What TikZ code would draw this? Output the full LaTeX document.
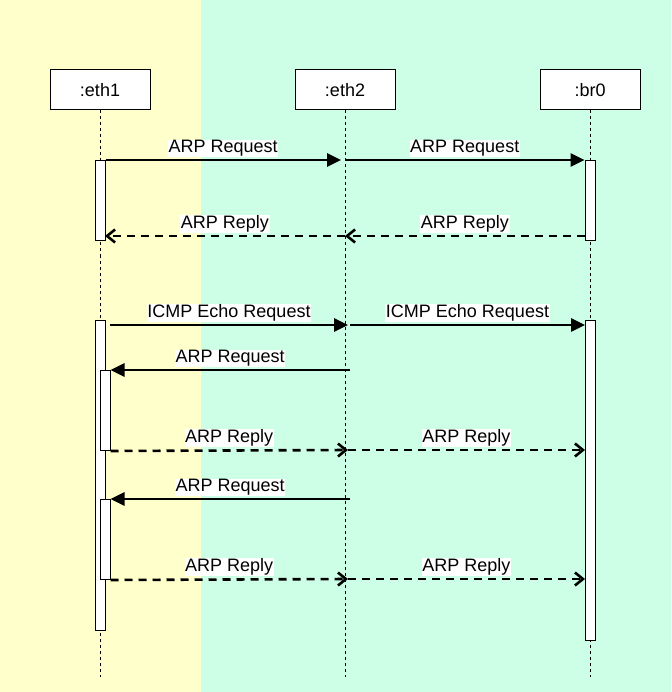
\documentclass[tikz,border=0pt]{standalone}
\usepackage{fontspec}
\setmainfont{Liberation Sans}
\usepackage{tikz}
\usetikzlibrary{arrows.meta}
\definecolor{bgyellow}{HTML}{FFFFCC}
\definecolor{bggreen}{HTML}{CCFFE6}
\tikzset{>=latex}

\begin{document}
\begin{tikzpicture}[x=1pt, y=-1pt]
\tikzset{head/.style={draw, fill=white, line width=1pt, minimum width=100pt, minimum height=40pt, inner sep=0pt, font=\fontsize{18pt}{20pt}\selectfont}}
\tikzset{lifeline/.style={line width=0.8pt, dash pattern=on 3pt off 3pt}}
\tikzset{act/.style={draw, fill=white, line width=1pt, minimum width=10pt, inner sep=0pt, anchor=north}}
\tikzset{msg/.style={line width=2.6pt, -{Triangle[length=14pt, width=13pt]}}}
\tikzset{reply/.style={line width=2.6pt, dash pattern=on 8pt off 6pt, -{Straight Barb[length=8pt, width=13pt, line width=2.6pt]}}}
\tikzset{lbl/.style={midway, above=2pt, fill=white, inner sep=0.5pt, font=\fontsize{18pt}{20pt}\selectfont}}
    \useasboundingbox (0,0) rectangle (671,692);
    \fill[bgyellow] (0,0) rectangle (201,692);
    \fill[bggreen] (201,0) rectangle (671,692);

    \node[head] (eth1) at (100,90) {:eth1};
    \node[head] (eth2) at (345,90) {:eth2};
    \node[head] (br0) at (590,90) {:br0};

    \coordinate (eth1end) at (100,677);
    \coordinate (eth2end) at (345,677);
    \coordinate (br0end) at (590,677);

    \draw[lifeline] (eth1) -- (eth1end);
    \draw[lifeline] (eth2) -- (eth2end);
    \draw[lifeline] (br0) -- (br0end);

    \node[act, minimum height=80pt] (a1) at (100,160) {};
    \node[act, minimum height=80pt] (b1) at (590,160) {};
    \node[act, minimum height=310pt] (a2) at (100,320) {};
    \node[act, minimum height=320pt] (b2) at (590,320) {};
    \node[act, minimum height=80pt] (c1) at (105,370) {};
    \node[act, minimum height=80pt] (c2) at (105,499) {};
% % % % % % % % % % % % % % % % % % %
    \coordinate (R1a) at (341,160);
    \coordinate (R1b) at (345,160);
    \coordinate (P1b) at (585,236);
    \coordinate (P1m) at (345,236);
    \coordinate (P1a) at (105,236);

    \draw[msg] (a1.north east) -- (R1a) node[lbl] {ARP Request};
    \draw[msg] (R1b) -- (b1.north west) node[lbl] {ARP Request};
    \draw[reply] (P1b) -- (P1m) node[lbl] {ARP Reply};
    \draw[reply] (P1m) -- (P1a) node[lbl] {ARP Reply};
% % % % % % % % % % % % % % % % % % %
    \coordinate (I1a) at (110,325);
    \coordinate (I1m) at (348,325);
    \coordinate (I1n) at (350,325);
    \coordinate (I1b) at (585,325);
    \coordinate (R2m) at (350,370);
    \coordinate (P2m) at (348,450);
    \coordinate (P2b) at (585,450);
    \coordinate (R3m) at (350,499);
    \coordinate (P3m) at (348,579);
    \coordinate (P3b) at (585,579);

    \draw[msg] (I1a) -- (I1m) node[lbl] {ICMP Echo Request};
    \draw[msg] (I1n) -- (I1b) node[lbl] {ICMP Echo Request};

    \draw[msg] (R2m) -- (c1.north east) node[lbl] {ARP Request};
    \draw[reply] (c1.south east) -- (P2m) node[lbl] {ARP Reply};
    \draw[reply] (P2m) -- (P2b) node[lbl] {ARP Reply};

    \draw[msg] (R3m) -- (c2.north east) node[lbl] {ARP Request};
    \draw[reply] (c2.south east) -- (P3m) node[lbl] {ARP Reply};
    \draw[reply] (P3m) -- (P3b) node[lbl] {ARP Reply};
\end{tikzpicture}
\end{document}
